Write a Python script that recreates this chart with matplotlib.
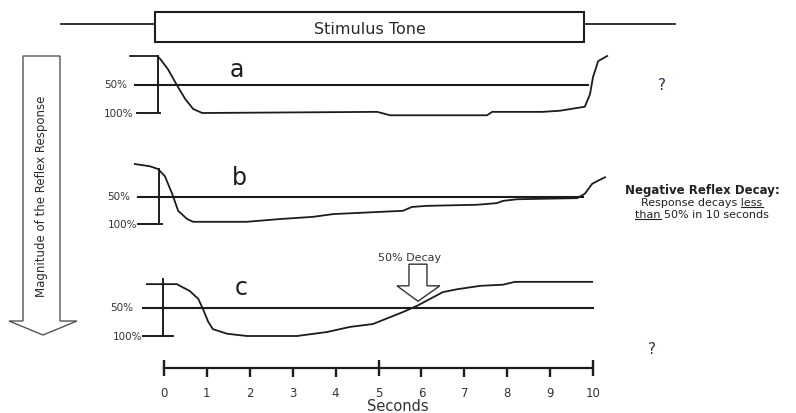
import matplotlib
matplotlib.use('Agg')
import matplotlib.pyplot as plt
from matplotlib.patches import Polygon, Rectangle

plt.rcParams['font.family'] = ['DejaVu Sans']

# ---------------- data ----------------
tick_secs = [0, 1, 2, 3, 4, 5, 6, 7, 8, 9, 10]
tick_labels = ['0', '1', '2', '3', '4', '5', '6', '7', '8', '9', '10']
major_secs = [0, 5, 10]

# trace a (time in s, reflex magnitude in % : 0 = none, 100 = full)
a_t = [-0.79, -0.16, -0.09, 0.09, 0.30, 0.49, 0.68, 0.89, 4.97, 5.27, 7.53, 7.65,
       8.83, 9.23, 9.81, 9.93, 10.0, 10.12, 10.33]
a_p = [0, 0, 5, 23, 51, 75, 93, 100, 98, 104, 104, 98, 98, 96, 89, 67, 37, 9, 0]

# trace b
b_t = [-0.68, -0.33, -0.14, 0.02, 0.19, 0.33, 0.54, 0.68, 1.93, 2.70, 3.47, 3.94,
       5.57, 5.78, 6.13, 7.30, 7.76, 7.90, 8.23, 9.63, 9.81, 9.98, 10.10, 10.28]
b_p = [-9, -5, 0, 13, 45, 76, 91, 96, 96, 91, 87, 82, 76, 69, 67, 65, 62, 58, 55,
       53, 45, 27, 22, 15]

# trace c
c_t = [-0.40, 0.30, 0.37, 0.60, 0.80, 0.91, 1.03, 1.14, 1.47, 1.93, 3.10, 3.80,
       4.34, 4.87, 5.27, 5.57, 5.90, 6.20, 6.50, 6.83, 7.37, 7.90, 8.18, 9.98]
c_p = [9, 9, 12, 21, 35, 53, 75, 88, 96, 100, 100, 93, 84, 79, 67, 58, 47, 35, 23,
       18, 12, 10, 5, 5]

decay_time = 5.92

# ---------------- figure ----------------
W, H, DPI = 796, 414, 100
fig = plt.figure(figsize=(W / DPI, H / DPI), dpi=DPI)
fig.patch.set_facecolor('white')

PX0, PXS = 164.0, 42.9          # pixel of t=0, pixels per second
tmin, tmax = -PX0 / PXS, (W - PX0) / PXS
INK = '#1c1c1c'

deco = fig.add_axes([0, 0, 1, 1])
deco.set_xlim(0, W)
deco.set_ylim(H, 0)
deco.axis('off')


def band_axes(y0, y100):
    ax = fig.add_axes([0, 1 - y100 / H, 1, (y100 - y0) / H])
    ax.set_xlim(tmin, tmax)
    ax.set_ylim(100, 0)
    ax.axis('off')
    ax.patch.set_visible(False)
    return ax


panels = [
    dict(name='a', t=a_t, p=a_p, y=(57, 114), bar=-0.14, l50=(-0.68, 9.88), l100=(-0.63, -0.09),
         lab=(1.70, 22), labx50=-0.85, labx100=-0.72),
    dict(name='b', t=b_t, p=b_p, y=(170, 225), bar=-0.12, l50=(-0.60, 9.77), l100=(-0.60, -0.05),
         lab=(1.75, 15), labx50=-0.78, labx100=-0.62),
    dict(name='c', t=c_t, p=c_p, y=(280, 337), bar=-0.02, l50=(-0.49, 10.0), l100=(-0.49, 0.21),
         lab=(1.80, 14), labx50=-0.72, labx100=-0.50),
]

axes = {}
for pn in panels:
    ax = band_axes(*pn['y'])
    axes[pn['name']] = ax
    ax.plot(pn['t'], pn['p'], color=INK, lw=1.3, clip_on=False, solid_joinstyle='round')
    ax.plot(list(pn['l50']), [50, 50], color=INK, lw=1.5, clip_on=False)
    ax.plot(list(pn['l100']), [100, 100], color=INK, lw=1.4, clip_on=False)
    ax.plot([pn['bar'], pn['bar']], [0, 100], color=INK, lw=1.4, clip_on=False)
    ax.text(pn['labx50'], 50, '50%', ha='right', va='center', fontsize=7.5, color='#333333')
    ax.text(pn['labx100'], 100, '100%', ha='right', va='center', fontsize=7.5, color='#333333')
    ax.text(pn['lab'][0], pn['lab'][1], pn['name'], ha='center', va='center',
            fontsize=17, color=INK)

# decay arrow on panel c
axc = axes['c']
arrow = Polygon([(decay_time - 0.21, -26), (decay_time + 0.21, -26), (decay_time + 0.21, 12),
                 (decay_time + 0.51, 12), (decay_time, 39), (decay_time - 0.49, 12),
                 (decay_time - 0.21, 12)], closed=True, facecolor='white', edgecolor='#333333',
                lw=1.0, clip_on=False, zorder=1)
axc.add_patch(arrow)
axc.text(decay_time - 0.2, -39, '50% Decay', ha='center', va='center', fontsize=8, color='#333333')

# seconds axis
axs = fig.add_axes([0, 1 - 369 / H, 1, 0.0001])
axs.set_xlim(tmin, tmax)
axs.patch.set_visible(False)
for s in ['top', 'left', 'right']:
    axs.spines[s].set_visible(False)
axs.spines['bottom'].set_bounds(0, 10)
axs.spines['bottom'].set_linewidth(1.6)
axs.spines['bottom'].set_color(INK)
axs.set_yticks([])
axs.set_xticks(major_secs)
axs.set_xticklabels([tick_labels[tick_secs.index(v)] for v in major_secs])
minor = [v for v in tick_secs if v not in major_secs]
axs.set_xticks(minor, minor=True)
axs.set_xticklabels([tick_labels[tick_secs.index(v)] for v in minor], minor=True)
axs.tick_params(axis='x', which='major', direction='inout', length=11, width=1.7, pad=7.5,
                labelsize=8.5, color=INK, labelcolor='#333333')
axs.tick_params(axis='x', which='minor', direction='out', length=6.5, width=1.7, pad=6.5,
                labelsize=8.5, color=INK, labelcolor='#333333')
axs.set_xlabel('Seconds', fontsize=10.5, labelpad=-1, color='#333333')

# stimulus tone bar
deco.plot([61, 155], [25, 25], color='#333333', lw=1.4)
deco.plot([584, 675], [25, 25], color='#333333', lw=1.4)
deco.add_patch(Rectangle((155, 13), 584 - 155, 30, facecolor='white', edgecolor=INK, lw=1.5))
deco.text(370, 29, 'Stimulus Tone', ha='center', va='center', fontsize=11.5, color='#2a2a2a')

# big magnitude arrow
big = Polygon([(23, 57), (60, 57), (60, 322), (77, 322), (43, 336), (9, 322), (23, 322)],
              closed=True, facecolor='white', edgecolor='#555555', lw=1.0)
deco.add_patch(big)
deco.text(42, 196, 'Magnitude of the Reflex Response', rotation=90, ha='center', va='center',
          fontsize=8.5, color='#2a2a2a')

# question marks
qcol = '#2b3350'
deco.text(662, 85, '?', ha='center', va='center', fontsize=11, color=qcol)
deco.text(652, 350, '?', ha='center', va='center', fontsize=11, color=qcol)

# right annotation
deco.text(702, 194, 'Negative Reflex Decay:', ha='center', va='baseline', fontsize=8.5,
          fontweight='bold', color='#222222')
t2 = deco.text(702, 206, 'Response decays less', ha='center', va='baseline', fontsize=8,
               color='#222222')
t3 = deco.text(702, 218, 'than 50% in 10 seconds', ha='center', va='baseline', fontsize=8,
               color='#222222')

fig.canvas.draw()
r = fig.canvas.get_renderer()
inv = deco.transData.inverted()


def word_width(word, ref):
    tmp = deco.text(0, 0, word, fontsize=ref.get_fontsize(), fontweight=ref.get_fontweight())
    bb = tmp.get_window_extent(r)
    tmp.remove()
    return bb.width


bb2 = t2.get_window_extent(r)
w_less = word_width('less', t2)
x1, _ = inv.transform((bb2.x1 - w_less, bb2.y0))
x2, _ = inv.transform((bb2.x1, bb2.y0))
deco.plot([x1, x2], [207.5, 207.5], color='#222222', lw=0.8)

bb3 = t3.get_window_extent(r)
w_than = word_width('than', t3)
x1, _ = inv.transform((bb3.x0, bb3.y0))
x2, _ = inv.transform((bb3.x0 + w_than, bb3.y0))
deco.plot([x1, x2], [219.5, 219.5], color='#222222', lw=0.8)

fig.savefig('out.png', dpi=DPI, facecolor='white')
